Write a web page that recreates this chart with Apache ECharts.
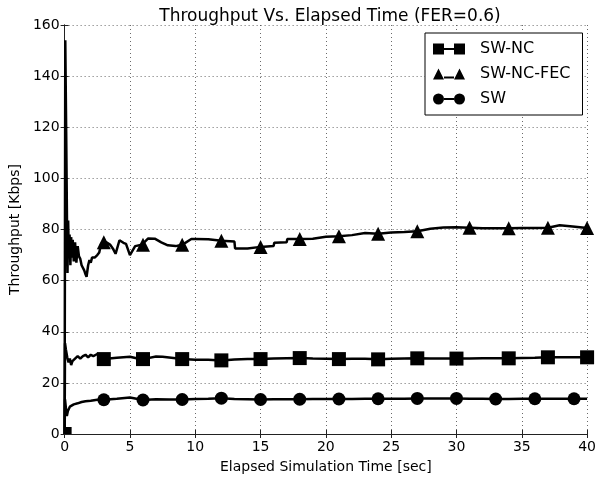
<!DOCTYPE html>
<html>
<head>
<meta charset="utf-8">
<script src="https://cdn.jsdelivr.net/npm/echarts@6/dist/echarts.min.js"></script>
<style>
  html, body { margin: 0; padding: 0; background: #fff; }
  #chart { width: 599px; height: 479px; }
</style>
</head>
<body>
<div id="chart"></div>
<script>
// throughput curves: [time sec, Kbps]
const fecPts = [
  [0, 0], [0.05, 154], [0.12, 118], [0.18, 84], [0.22, 63], [0.27, 83.5], [0.32, 70], [0.38, 78],
  [0.44, 66], [0.5, 77], [0.56, 69], [0.62, 76], [0.7, 67.5], [0.8, 75], [0.9, 67], [1.0, 73.5],
  [1.1, 69.5], [1.2, 68.5], [1.3, 66], [1.4, 66.5], [1.5, 64], [1.6, 62.5], [1.68, 61.5], [1.8, 66],
  [1.9, 68], [2.0, 67], [2.1, 69], [2.3, 69], [2.5, 70], [2.65, 71], [2.8, 74.5], [3.0, 75],
  [3.2, 75], [3.5, 74], [3.7, 72.5], [3.9, 70.5], [4.2, 75.8], [4.5, 74.8], [4.7, 74.4], [5.0, 70],
  [5.4, 73.5], [5.9, 74], [6.0, 74], [6.4, 76.5], [6.9, 76.4], [7.4, 75], [7.9, 73.8], [8.5, 73.5],
  [9.0, 74], [9.7, 76.3], [10, 76.3], [11, 76.2], [12, 75.6], [13, 75.3], [13.05, 72.6], [14, 72.6],
  [15, 73.2], [16, 73.5], [16.05, 74.8], [17, 75], [17.05, 76.3], [18, 76.3], [19, 76.4], [20, 77.2],
  [21, 77.4], [22, 77.8], [23, 78.6], [24, 78.3], [25, 78.8], [26, 79], [27, 79.3], [28, 80.3],
  [29, 80.8], [30, 80.9], [31, 80.7], [32, 80.5], [33, 80.5], [34, 80.5], [35, 80.6], [36, 80.6],
  [37, 80.7], [37.9, 81.7], [38.9, 81.2], [40, 80.6]
]
const ncPts = [
  [0, 0], [0.03, 35.5], [0.1, 33], [0.2, 30], [0.3, 28], [0.4, 29.5], [0.5, 27], [0.6, 28.5],
  [0.8, 29.5], [1.0, 30.5], [1.2, 29.5], [1.4, 30.5], [1.6, 31], [1.8, 30], [2.0, 31], [2.2, 30.5],
  [2.5, 31.3], [3, 29.3], [4, 29.8], [5, 30.2], [5.5, 29.6], [6, 29.3], [7, 30.3], [7.5, 30.2],
  [8, 29.9], [9, 29.3], [10, 29], [11, 29], [12, 28.8], [13, 29.1], [14, 29.3], [15, 29.3],
  [16, 29.5], [17, 29.6], [18, 29.7], [19, 29.5], [20, 29.4], [21, 29.3], [22, 29.4], [23, 29.4],
  [24, 29.2], [25, 29.4], [26, 29.5], [27, 29.6], [28, 29.5], [29, 29.5], [30, 29.5], [31, 29.5],
  [32, 29.6], [33, 29.6], [34, 29.6], [35, 29.7], [36, 29.8], [37, 30], [38, 30], [39, 30], [40, 30]
]
const swPts = [
  [0, 0], [0.03, 13.5], [0.1, 10], [0.17, 7], [0.25, 9], [0.4, 10.7], [0.55, 11], [0.7, 11.6],
  [1.0, 12], [1.3, 12.5], [1.6, 12.8], [2.0, 13], [2.5, 13.4], [3, 13.4], [4, 13.8], [5, 14.3],
  [5.5, 13.8], [6, 13.3], [7, 13.6], [8, 13.5], [9, 13.5], [10, 13.7], [11, 13.8], [12, 14],
  [13, 13.7], [14, 13.6], [15, 13.5], [16, 13.6], [17, 13.6], [18, 13.6], [19, 13.7], [20, 13.7],
  [21, 13.7], [22, 13.7], [23, 13.8], [24, 13.8], [25, 13.8], [26, 13.8], [27, 13.9], [28, 13.9],
  [29, 13.9], [30, 13.9], [31, 13.8], [32, 13.8], [33, 13.7], [34, 13.7], [35, 13.8], [36, 13.8],
  [37, 13.8], [38, 13.8], [39, 13.8], [40, 13.8]
]
// where the markers sit
const fecMarks = [3, 6, 9, 12, 15, 18, 21, 24, 27, 31, 34, 37, 40]
const ncMarks = [0, 3, 6, 9, 12, 15, 18, 21, 24, 27, 30, 34, 37, 40]
const swMarks = [3, 6, 9, 12, 15, 18, 21, 24, 27, 30, 33, 36, 39]

const seriesNames = ['SW-NC', 'SW-NC-FEC', 'SW']
const xTicks = [0, 5, 10, 15, 20, 25, 30, 35, 40]
const yTicks = [0, 20, 40, 60, 80, 100, 120, 140, 160]

const font = 'DejaVu Sans'
const xMin = xTicks[0], xMax = xTicks[xTicks.length - 1]

// markers on the plot edge are cut by the frame in the original
function withMarks(pts, marks, size) {
  return pts.map(p => {
    if (marks.indexOf(p[0]) < 0) return { value: p, symbol: 'none' }
    if (p[0] === xMin && p[1] === 0) return { value: p, symbolSize: size / 2, symbolOffset: [size / 4, -size / 4] }
    return { value: p }
  })
}

const icons = {
  'SW-NC': 'path://M0,0h11v11h-11z M11,4.5h10v2h-10z M21,0h11v11h-11z',
  'SW-NC-FEC': 'path://M0,11L5.5,0L11,11z M11,8h10v2h-10z M21,11L26.5,0L32,11z',
  'SW': 'path://M0,5.5a5.5,5.5 0 1,0 11,0a5.5,5.5 0 1,0 -11,0z M11,4.5h10v2h-10z M21,5.5a5.5,5.5 0 1,0 11,0a5.5,5.5 0 1,0 -11,0z'
}

const gridLine = { show: true, lineStyle: { color: '#444', type: [1, 3], width: 0.8 } }
const frame = { show: true, lineStyle: { color: '#222', width: 1 } }
const tick = { show: true, inside: true, length: 4, lineStyle: { color: '#222' } }

const chart = echarts.init(document.getElementById('chart'))
chart.setOption({
  animation: false,
  textStyle: { fontFamily: font },
  title: {
    text: 'Throughput Vs. Elapsed Time (FER=0.6)',
    left: 325,
    top: 3,
    textAlign: 'center',
    textStyle: { fontFamily: font, fontSize: 17, fontWeight: 'normal', color: '#000' }
  },
  legend: {
    orient: 'vertical',
    left: 425,
    top: 33,
    padding: [8, 12, 8, 8],
    itemGap: 9,
    itemWidth: 32,
    itemHeight: 11,
    borderColor: '#000',
    borderWidth: 1,
    borderRadius: 0,
    backgroundColor: '#fff',
    data: seriesNames.map(n => ({ name: n, icon: icons[n] })),
    itemStyle: { color: '#000' },
    textStyle: { fontFamily: font, fontSize: 16, color: '#000', padding: [0, 0, 0, 10], lineHeight: 14 }
  },
  grid: { left: 61, right: 8, top: 25, bottom: 45 },
  xAxis: [{
    type: 'value',
    min: xMin,
    max: xMax,
    interval: 5,
    name: 'Elapsed Simulation Time [sec]',
    nameLocation: 'middle',
    nameGap: 26,
    nameTextStyle: { fontFamily: font, fontSize: 14, color: '#000' },
    axisLine: frame,
    axisTick: tick,
    axisLabel: { fontFamily: font, fontSize: 14, color: '#000', margin: 6 },
    splitLine: gridLine
  }, {
    type: 'value', position: 'top',
    min: xMin, max: xMax, interval: 5,
    axisLine: frame, axisTick: tick,
    axisLabel: { show: false },
    splitLine: { show: false }
  }],
  yAxis: [{
    type: 'value',
    min: yTicks[0],
    max: yTicks[yTicks.length - 1],
    interval: 20,
    name: 'Throughput [Kbps]',
    nameLocation: 'middle',
    nameGap: 37,
    nameTextStyle: { fontFamily: font, fontSize: 14, color: '#000' },
    axisLine: frame,
    axisTick: tick,
    axisLabel: { fontFamily: font, fontSize: 14, color: '#000', margin: 5 },
    splitLine: gridLine
  }, {
    type: 'value', position: 'right',
    min: yTicks[0], max: yTicks[yTicks.length - 1], interval: 20,
    axisLine: frame, axisTick: tick,
    axisLabel: { show: false },
    splitLine: { show: false }
  }],
  series: [
    {
      name: 'SW-NC', type: 'line', data: withMarks(ncPts, ncMarks, 14),
      symbol: 'rect', symbolSize: 14, showAllSymbol: true,
      lineStyle: { color: '#000', width: 2.5 }, itemStyle: { color: '#000' }
    },
    {
      name: 'SW-NC-FEC', type: 'line', data: withMarks(fecPts, fecMarks, 14),
      symbol: 'triangle', symbolSize: 14, showAllSymbol: true,
      lineStyle: { color: '#000', width: 2.5 }, itemStyle: { color: '#000' }
    },
    {
      name: 'SW', type: 'line', data: withMarks(swPts, swMarks, 13),
      symbol: 'circle', symbolSize: 13, showAllSymbol: true,
      lineStyle: { color: '#000', width: 2.5 }, itemStyle: { color: '#000' }
    }
  ]
})
</script>
</body>
</html>
